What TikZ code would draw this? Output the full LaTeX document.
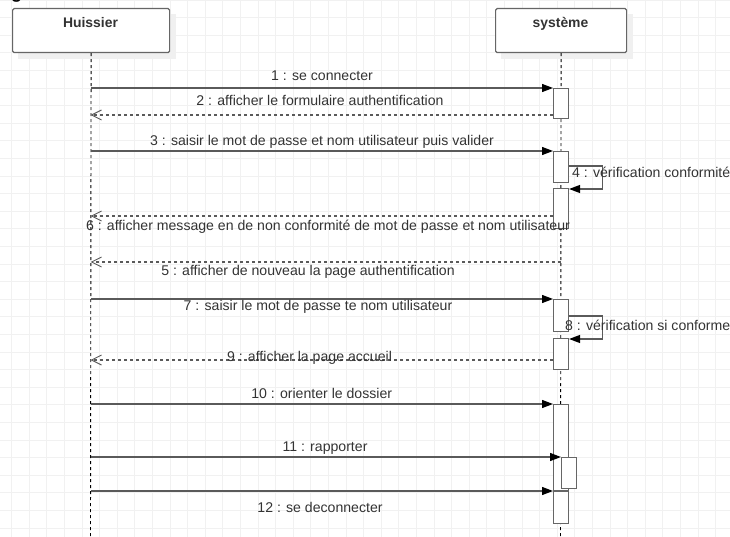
\documentclass[tikz,border=0pt]{standalone}
\usepackage{fontspec}
\setmainfont{Liberation Sans}
\usetikzlibrary{arrows.meta,calc}
\definecolor{gridc}{HTML}{F1F1F1}
\definecolor{linec}{HTML}{5A5A5A}
\definecolor{boxc}{HTML}{666666}
\definecolor{txtc}{HTML}{333333}
\definecolor{shadc}{HTML}{F0F0F0}

\begin{document}
\begin{tikzpicture}[x=1pt,y=-1pt,
  gridline/.style={draw=gridc,line width=0.9pt},
  headbox/.style={draw=boxc,fill=white,line width=1.2pt,rounded corners=1.5pt,
    inner sep=0,anchor=north west,minimum height=44pt},
  headtxt/.style={anchor=base,inner sep=0,text=txtc,
    font=\bfseries\fontsize{13.9}{16}\selectfont},
  lifeline/.style={draw=black,line width=0.9pt,dash pattern=on 3pt off 3pt},
  actbox/.style={draw=boxc,fill=white,line width=1.1pt,inner sep=0,
    anchor=north west,minimum width=15pt},
  msg/.style={draw=linec,line width=1.2pt,
    -{Triangle[length=11pt,width=8pt,fill=black,color=black]}},
  ret/.style={draw=linec,line width=1.1pt,dash pattern=on 3pt off 3pt,
    -{Straight Barb[length=10pt,width=10pt,line width=0.9pt]}},
  lab/.style={anchor=base,inner sep=0,text=txtc,
    font=\fontsize{14.1}{16}\selectfont},
  labw/.style={lab,anchor=base west}]

\useasboundingbox (0,0) rectangle (730,537);
\clip (0,0) rectangle (730,537);

% background grid
\foreach \i in {0,...,41} \draw[gridline] ({11.6+17.6*\i},0) -- ++(0,537);
\foreach \j in {0,...,30} \draw[gridline] (0,{17.6*\j}) -- ++(730,0);

% heading letter, cut by the top edge
\node[anchor=base west,inner sep=0,font=\bfseries\fontsize{18}{18}\selectfont] (gfrag) at (11,-1) {g};

% lifeline heads
\fill[shadc] (18,14) rectangle (176,59);
\fill[shadc] (501,14) rectangle (633,59);
\node[headbox,minimum width=157pt] (hu) at (12,8) {};
\node[headbox,minimum width=131pt] (sy) at (495,8) {};
\node[headtxt] (hut) at (90.5,27.3) {Huissier};
\node[headtxt] (syt) at (560.5,27.3) {système};

% lifelines
\coordinate (hubot) at (90.5,537);
\coordinate (sybot) at (560.5,537);
\draw[lifeline] (hu.south) -- (hubot);
\draw[lifeline] (sy.south) -- (sybot);

% activation bars
\node[actbox,minimum height=30pt] (a1) at (553,88) {};
\node[actbox,minimum height=31pt] (a3) at (553,151) {};
\node[actbox,minimum height=40pt] (a4) at (553,188) {};
\node[actbox,minimum height=32pt] (a7) at (553,299) {};
\node[actbox,minimum height=31pt] (a8) at (553,338) {};
\node[actbox,minimum height=86pt] (a10) at (553,404) {};
\node[actbox,minimum height=31pt] (a11) at (561,457) {};
\node[actbox,minimum height=32pt] (a12) at (553,491) {};

% return points on the Huissier lifeline
\coordinate (r2) at (90.5,115);
\coordinate (r6) at (90.5,216);
\coordinate (r5) at (90.5,262);
\coordinate (r9) at (90.5,360);

% messages
\draw[msg] (hu.south |- a1.north) -- (a1.north west);
\draw[ret] (a1.west |- r2) -- (r2);
\draw[msg] (hu.south |- a3.north) -- (a3.north west);
\draw[msg] ($(a3.north east)+(0,15)$) -- ++(33,0) |- ($(a4.north east)+(0,1)$);
\draw[ret] (a4.west |- r6) -- (r6);
\draw[ret] (sy.south |- r5) -- (r5);
\draw[msg] (hu.south |- a7.north) -- (a7.north west);
\draw[msg] ($(a7.north east)+(0,17)$) -- ++(33,0) |- ($(a8.north east)+(0,1)$);
\draw[ret] (a8.west |- r9) -- (r9);
\draw[msg] (hu.south |- a10.north) -- (a10.north west);
\draw[msg] (hu.south |- a11.north) -- (a11.north west);
\draw[msg] (hu.south |- a12.north) -- (a12.north west);

% message labels
\node[lab] (l1) at (322,81) {1 : se connecter};
\node[lab] (l2) at (320,106) {2 : afficher le formulaire authentification};
\node[lab] (l3) at (322,146) {3 : saisir le mot de passe et nom utilisateur puis valider};
\node[labw] (l4) at (572,178) {4 : vérification conformité};
\node[lab] (l6) at (328,230) {6 : afficher message en de non conformité de mot de passe et nom utilisateur};
\node[lab] (l5) at (308,275) {5 : afficher de nouveau la page authentification};
\node[lab] (l7) at (318,310.7) {7 : saisir le mot de passe te nom utilisateur};
\node[labw] (l8) at (565,330.7) {8 : vérification si conforme};
\node[lab] (l9) at (309.5,361) {9 : afficher la page accueil};
\node[lab] (l10) at (321.7,398.3) {10 : orienter le dossier};
\node[lab] (l11) at (325,451) {11 : rapporter};
\node[lab] (l12) at (320,512.7) {12 : se deconnecter};
\end{tikzpicture}
\end{document}
